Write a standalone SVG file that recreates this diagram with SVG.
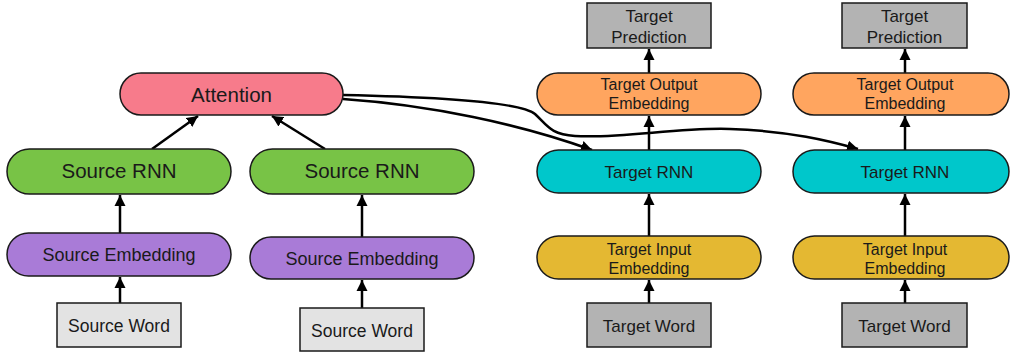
<svg xmlns="http://www.w3.org/2000/svg" width="1010" height="352" viewBox="0 0 1010 352">
<defs>
<marker id="ah" markerUnits="userSpaceOnUse" markerWidth="12" markerHeight="12" refX="11" refY="6" orient="auto">
<path d="M0,0.5 L11,6 L0,11.5 z" fill="#000"/>
</marker>
<style>
.n{stroke:#1a1a1a;stroke-width:1.5}
.t{font-family:"Liberation Sans",Arial,sans-serif;fill:#1a1a1a;text-anchor:middle}
.c{fill:none;stroke:#000;stroke-width:2.5;marker-end:url(#ah)}
.att{fill:#F77B8B}.srnn{fill:#78C346}.semb{fill:#A97BD7}.sw{fill:#E3E3E3}
.trnn{fill:#00C7CB}.tout{fill:#FFA55F}.tin{fill:#E4B832}.tg{fill:#B3B3B3}
</style>
</defs>
<rect width="1010" height="352" fill="#fff"/>
<g id="connectors">
<line class="c" x1="120" y1="303" x2="120" y2="277"/>
<line class="c" x1="120" y1="233" x2="120" y2="195"/>
<line class="c" x1="152" y1="149" x2="198" y2="116"/>
<line class="c" x1="325" y1="149" x2="272" y2="116"/>
<line class="c" x1="362" y1="308" x2="362" y2="280"/>
<line class="c" x1="362" y1="237" x2="362" y2="195"/>
<line class="c" x1="649" y1="303" x2="649" y2="280"/>
<line class="c" x1="649" y1="236" x2="649" y2="194"/>
<line class="c" x1="649" y1="150" x2="649" y2="116"/>
<line class="c" x1="649" y1="73" x2="649" y2="49"/>
<line class="c" x1="905" y1="303" x2="905" y2="280"/>
<line class="c" x1="905" y1="236" x2="905" y2="194"/>
<line class="c" x1="905" y1="150" x2="905" y2="116"/>
<line class="c" x1="905" y1="73" x2="905" y2="49"/>
<path class="c" d="M343,99 C430,105 520,124 592,150"/>
<path class="c" d="M343,95 C440,97 520,102 535,114 C548,126 550,134 575,136 C620,139 680,127 730,129 C790,131 830,141 858,149"/>
</g>
<g id="attention"><rect class="n att" x="120" y="73" width="223" height="42" rx="21"/><text class="t" x="231.5" y="102" font-size="20.5">Attention</text></g>
<g id="source-rnn-1"><rect class="n srnn" x="7" y="149" width="224" height="45" rx="22.5"/><text class="t" x="119" y="178" font-size="20.5">Source RNN</text></g>
<g id="source-rnn-2"><rect class="n srnn" x="250" y="149" width="224" height="45" rx="22.5"/><text class="t" x="362" y="178" font-size="20.5">Source RNN</text></g>
<g id="source-emb-1"><rect class="n semb" x="7" y="233" width="224" height="43" rx="21.5"/><text class="t" x="119" y="261" font-size="18">Source Embedding</text></g>
<g id="source-emb-2"><rect class="n semb" x="250" y="237" width="224" height="42" rx="21"/><text class="t" x="362" y="265" font-size="18">Source Embedding</text></g>
<g id="source-word-1"><rect class="n sw" x="57" y="303" width="124" height="44"/><text class="t" x="119" y="332" font-size="17.5">Source Word</text></g>
<g id="source-word-2"><rect class="n sw" x="300" y="308" width="124" height="43"/><text class="t" x="362" y="337" font-size="17.5">Source Word</text></g>
<g id="target-pred-1"><rect class="n tg" x="587" y="3" width="124" height="45"/><text class="t" x="649" y="22" font-size="17">Target</text><text class="t" x="649" y="43" font-size="17">Prediction</text></g>
<g id="target-pred-2"><rect class="n tg" x="842" y="3" width="125" height="45"/><text class="t" x="904.5" y="22" font-size="17">Target</text><text class="t" x="904.5" y="43" font-size="17">Prediction</text></g>
<g id="target-out-1"><rect class="n tout" x="537" y="73" width="224" height="42" rx="21"/><text class="t" x="649" y="90" font-size="16">Target Output</text><text class="t" x="649" y="109" font-size="16">Embedding</text></g>
<g id="target-out-2"><rect class="n tout" x="793" y="73" width="216" height="42" rx="21"/><text class="t" x="905" y="90" font-size="16">Target Output</text><text class="t" x="905" y="109" font-size="16">Embedding</text></g>
<g id="target-rnn-1"><rect class="n trnn" x="537" y="150" width="224" height="43" rx="21.5"/><text class="t" x="649" y="178" font-size="17">Target RNN</text></g>
<g id="target-rnn-2"><rect class="n trnn" x="793" y="150" width="216" height="43" rx="21.5"/><text class="t" x="905" y="178" font-size="17">Target RNN</text></g>
<g id="target-in-1"><rect class="n tin" x="537" y="236" width="224" height="43" rx="21.5"/><text class="t" x="649" y="255" font-size="16">Target Input</text><text class="t" x="649" y="274" font-size="16">Embedding</text></g>
<g id="target-in-2"><rect class="n tin" x="793" y="236" width="216" height="43" rx="21.5"/><text class="t" x="905" y="255" font-size="16">Target Input</text><text class="t" x="905" y="274" font-size="16">Embedding</text></g>
<g id="target-word-1"><rect class="n tg" x="587" y="303" width="124" height="44"/><text class="t" x="649" y="332" font-size="17">Target Word</text></g>
<g id="target-word-2"><rect class="n tg" x="842" y="303" width="125" height="44"/><text class="t" x="904.5" y="332" font-size="17">Target Word</text></g>
</svg>
